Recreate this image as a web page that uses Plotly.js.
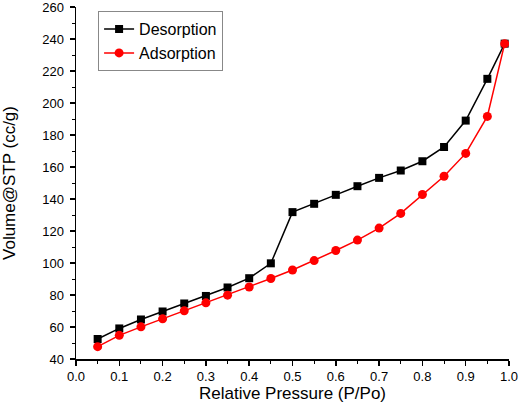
<!DOCTYPE html>
<html>
<head>
<meta charset="utf-8">
<script src="https://cdn.plot.ly/plotly-3.0.1.min.js"></script>
<style>html,body{margin:0;padding:0;background:#fff}#chart{width:520px;height:414px}</style>
</head>
<body>
<div id="chart"></div>
<script>
const pressure = [0.05,0.10,0.15,0.20,0.25,0.30,0.35,0.40,0.45,0.50,0.55,0.60,0.65,0.70,0.75,0.80,0.85,0.90,0.95,0.99];
const desorption = [52.5,59.1,64.7,69.7,74.7,79.4,84.7,90.5,99.8,131.8,137.0,142.6,148.0,153.2,157.8,163.6,172.5,189.0,215.1,237.1];
const adsorption = [47.7,54.8,60.1,65.1,70.1,75.1,79.9,85.0,90.3,95.6,101.5,107.8,114.3,121.8,131.0,142.8,154.2,168.5,191.6,237.1];
const xTicks = [0.0,0.1,0.2,0.3,0.4,0.5,0.6,0.7,0.8,0.9,1.0];
const xTickText = ["0.0","0.1","0.2","0.3","0.4","0.5","0.6","0.7","0.8","0.9","1.0"];
const yTicks = [40,60,80,100,120,140,160,180,200,220,240,260];

const traces = [
  {x: pressure, y: desorption, name: "Desorption", type: "scatter", mode: "lines+markers",
   line: {color: "#000000", width: 1.5}, marker: {symbol: "square", size: 8, color: "#000000"}},
  {x: pressure, y: adsorption, name: "Adsorption", type: "scatter", mode: "lines+markers",
   line: {color: "#ff0000", width: 1.5}, marker: {symbol: "circle", size: 9, color: "#ff0000"}}
];

const fam = "Arial, Liberation Sans, sans-serif";
const axisFont = {family: fam, size: 13, color: "#000"};
const layout = {
  width: 520, height: 414,
  margin: {l: 76, r: 11, t: 7, b: 55},
  paper_bgcolor: "#fff", plot_bgcolor: "#fff",
  font: {family: fam, color: "#000"},
  showlegend: true,
  legend: {x: 0.051, y: 0.988, xanchor: "left", yanchor: "top",
    bordercolor: "#888", borderwidth: 1, bgcolor: "#fff",
    font: {size: 16, family: fam}, tracegroupgap: 0},
  xaxis: {
    range: [0, 1.0], tickvals: xTicks, ticktext: xTickText,
    showgrid: false, zeroline: false, showline: true, linecolor: "#000", linewidth: 1.5,
    ticks: "outside", ticklen: 5, tickwidth: 1.5, tickcolor: "#000", tickfont: axisFont,
    ticklabeloverflow: "allow",
    minor: {dtick: 0.05, tick0: 0, ticks: "outside", ticklen: 3, tickwidth: 1, tickcolor: "#000", showgrid: false},
    title: {text: "Relative Pressure (P/Po)", font: {size: 17}, standoff: 4}
  },
  yaxis: {
    range: [40, 260], tickvals: yTicks,
    showgrid: false, zeroline: false, showline: true, linecolor: "#000", linewidth: 1.5,
    ticks: "outside", ticklen: 5, tickwidth: 1.5, tickcolor: "#000", tickfont: axisFont,
    ticklabelstandoff: 3, ticklabeloverflow: "allow",
    minor: {dtick: 10, tick0: 40, ticks: "outside", ticklen: 3, tickwidth: 1, tickcolor: "#000", showgrid: false},
    title: {text: "Volume@STP (cc/g)", font: {size: 17}, standoff: 22}
  }
};
Plotly.newPlot("chart", traces, layout, {displayModeBar: false, staticPlot: true});
</script>
</body>
</html>
